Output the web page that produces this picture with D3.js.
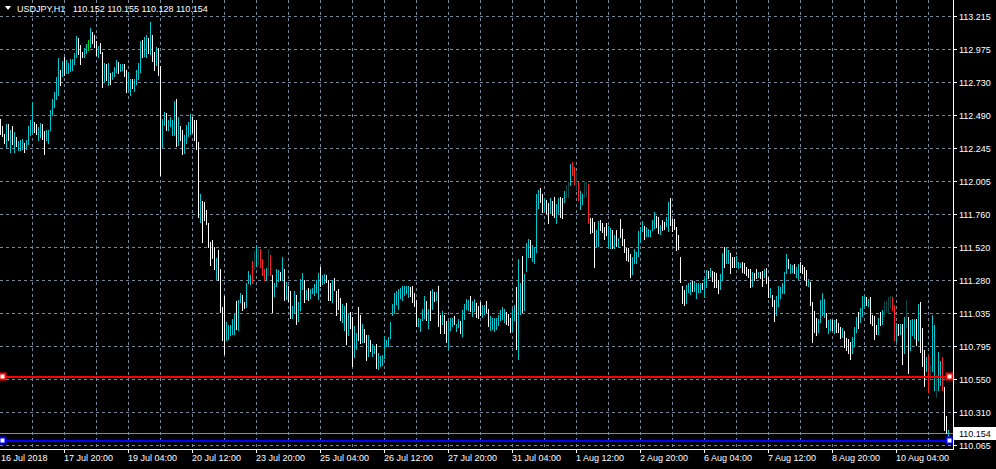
<!DOCTYPE html>
<html><head><meta charset="utf-8">
<script src="https://cdn.jsdelivr.net/npm/d3@7"></script>
<style>html,body{margin:0;padding:0;background:#000;overflow:hidden}svg{display:block}</style>
</head><body><svg id="c" width="996" height="469"></svg>
<script>
const symbolName = "USDJPY,H1";
const quote = [110.152, 110.155, 110.128, 110.154]; // open high low close
const priceTicks = [113.215,112.975,112.730,112.490,112.245,112.005,111.760,111.520,111.280,111.035,110.795,110.550,110.310,110.065];
const timeLabels = ["16 Jul 2018","17 Jul 20:00","19 Jul 04:00","20 Jul 12:00","23 Jul 20:00","25 Jul 04:00","26 Jul 12:00","27 Jul 20:00","31 Jul 04:00","1 Aug 12:00","2 Aug 20:00","6 Aug 04:00","7 Aug 12:00","8 Aug 20:00","10 Aug 04:00"];
const barsPerLabel = 32;
const barsPerGrid = 16;
const redLevel = 110.565;
const blueLevel = 110.095;
const bidLevel = 110.154;

const highs = [
112.462,112.406,112.352,112.421,112.425,112.376,112.406,112.364,112.327,112.298,
112.303,112.315,112.283,112.303,112.406,112.450,112.585,112.438,112.421,112.401,
112.430,112.425,112.372,112.376,112.381,112.523,112.602,112.658,112.768,112.903,
112.822,112.886,112.911,112.891,112.871,112.896,112.896,112.940,113.067,113.050,
113.001,112.952,112.977,113.009,113.038,113.124,113.099,113.075,113.033,112.994,
113.018,112.952,112.871,112.866,112.871,112.793,112.805,112.842,112.891,112.879,
112.862,112.862,112.866,112.817,112.805,112.756,112.756,112.756,112.817,112.871,
113.033,113.038,113.062,113.075,113.050,113.173,113.075,112.952,112.989,112.977,
112.847,112.462,112.511,112.504,112.450,112.474,112.455,112.592,112.609,112.474,
112.406,112.376,112.340,112.413,112.438,112.494,112.474,112.455,112.450,112.291,
111.911,111.857,111.850,111.788,111.695,111.556,111.573,111.519,111.441,111.494,
111.360,111.078,111.156,110.968,110.943,110.943,110.992,111.029,111.122,111.127,
111.178,111.163,111.114,111.256,111.342,111.310,111.415,111.489,111.530,111.501,
111.506,111.432,111.354,111.366,111.501,111.457,111.310,111.256,111.354,111.349,
111.334,111.447,111.354,111.261,111.231,111.195,111.084,111.195,111.170,111.114,
111.285,111.329,111.280,111.202,111.219,111.212,111.219,111.244,111.276,111.325,
111.371,111.310,111.317,111.310,111.280,111.251,111.276,111.293,111.195,111.207,
111.146,111.097,111.089,111.109,111.035,111.040,111.006,110.942,110.888,111.080,
111.023,110.950,110.918,110.876,110.876,110.839,110.803,110.795,110.803,110.737,
110.717,110.729,110.869,110.839,110.859,110.967,111.097,111.178,111.195,111.207,
111.219,111.231,111.236,111.231,111.236,111.227,111.231,111.182,111.133,110.999,
110.991,111.065,111.158,111.121,111.065,111.195,111.207,111.187,111.187,111.231,
111.023,111.048,111.023,110.974,110.974,110.999,110.999,111.011,110.957,110.991,
110.974,111.055,111.097,111.138,111.133,111.158,111.121,111.138,111.109,111.089,
111.116,111.091,111.096,111.121,111.067,111.013,110.998,110.998,110.998,111.018,
111.055,111.079,111.062,111.042,111.030,110.998,111.062,111.096,111.226,111.434,
111.258,111.454,111.324,111.545,111.577,111.569,111.537,111.520,111.905,111.937,
111.949,111.905,111.875,111.863,111.839,111.875,111.856,111.888,111.831,111.880,
111.888,111.880,111.929,111.973,111.993,112.125,112.145,112.108,112.071,111.998,
111.929,111.905,112.003,111.993,111.978,111.733,111.733,111.699,111.643,111.709,
111.716,111.692,111.667,111.692,111.675,111.660,111.643,111.606,111.643,111.586,
111.724,111.650,111.581,111.513,111.508,111.464,111.447,111.503,111.483,111.635,
111.667,111.709,111.675,111.667,111.650,111.643,111.716,111.773,111.748,111.741,
111.679,111.716,111.704,111.741,111.851,111.875,111.724,111.724,111.667,111.606,
111.447,111.234,111.202,111.238,111.251,111.263,111.268,111.268,111.251,111.258,
111.251,111.258,111.292,111.349,111.341,111.361,111.341,111.332,111.330,111.276,
111.320,111.472,111.516,111.516,111.496,111.472,111.447,111.447,111.452,111.411,
111.403,111.411,111.398,111.374,111.354,111.354,111.337,111.330,111.354,111.337,
111.337,111.345,111.354,111.362,111.296,111.215,111.166,111.129,111.158,111.232,
111.227,111.251,111.337,111.467,111.428,111.394,111.386,111.394,111.374,111.394,
111.411,111.386,111.369,111.349,111.281,111.264,111.117,111.051,110.994,110.987,
111.129,111.178,111.134,111.036,110.982,110.987,110.982,110.982,110.987,110.962,
110.928,110.921,110.904,110.847,110.840,110.823,110.855,110.928,111.006,111.043,
111.068,111.158,111.166,111.149,111.134,111.153,111.019,111.011,110.945,110.994,
111.043,111.055,111.117,111.124,111.149,111.158,111.153,111.092,110.962,110.957,
110.957,110.957,111.002,111.129,111.002,110.982,110.987,110.987,110.987,111.100,
111.117,110.921,110.761,110.712,110.725,110.651,111.019,110.945,110.578,110.749,
110.683,110.712,110.492,110.276,110.173];

const lows = [
112.352,112.332,112.283,112.254,112.303,112.217,112.274,112.217,112.259,112.229,
112.234,112.242,112.217,112.242,112.278,112.340,112.364,112.364,112.352,112.308,
112.327,112.315,112.205,112.303,112.283,112.376,112.487,112.548,112.609,112.634,
112.707,112.773,112.781,112.798,112.798,112.813,112.822,112.866,112.911,112.935,
112.866,112.911,112.911,112.940,112.969,112.989,113.018,112.989,112.928,112.915,
112.940,112.695,112.732,112.744,112.707,112.719,112.749,112.773,112.805,112.793,
112.813,112.817,112.773,112.658,112.675,112.634,112.683,112.666,112.719,112.756,
112.805,112.911,112.920,112.915,112.940,112.935,112.886,112.817,112.854,112.781,
112.046,112.254,112.413,112.376,112.376,112.406,112.340,112.340,112.259,112.266,
112.303,112.200,112.210,112.283,112.332,112.352,112.364,112.303,112.242,111.739,
111.703,111.556,111.715,111.690,111.519,111.384,111.441,111.360,111.286,111.274,
111.041,110.833,110.735,110.838,110.845,110.870,110.882,110.882,110.919,110.906,
111.114,111.055,111.072,111.080,111.256,111.244,111.251,111.354,111.383,111.391,
111.374,111.310,111.280,111.276,111.310,111.310,111.040,111.158,111.231,111.268,
111.276,111.280,111.129,111.138,111.121,110.999,110.999,111.035,110.950,110.974,
111.055,111.207,111.114,111.138,111.133,111.146,111.178,111.163,111.187,111.138,
111.231,111.244,111.251,111.261,111.129,111.129,111.114,111.202,111.016,111.065,
110.986,110.967,110.913,110.803,110.876,110.925,110.643,110.712,110.771,110.835,
110.815,110.820,110.820,110.692,110.722,110.754,110.722,110.737,110.631,110.620,
110.643,110.656,110.705,110.790,110.795,110.852,111.023,111.031,111.097,111.065,
111.146,111.133,111.163,111.178,111.153,111.158,111.114,111.084,110.937,110.942,
110.901,110.986,110.999,110.986,110.925,110.986,111.060,111.121,111.133,110.937,
110.888,110.957,110.888,110.820,110.771,110.908,110.937,110.950,110.901,110.933,
110.888,110.869,110.991,111.065,111.055,111.048,111.011,111.048,111.006,110.999,
111.018,111.006,111.030,111.042,110.940,110.908,110.920,110.900,110.915,110.944,
110.981,110.993,110.969,110.957,110.949,110.895,110.908,110.981,110.768,110.699,
111.030,111.042,111.055,111.341,111.447,111.447,111.415,111.398,111.483,111.802,
111.851,111.777,111.782,111.765,111.692,111.765,111.753,111.741,111.692,111.765,
111.741,111.733,111.846,111.888,111.888,111.973,112.047,111.978,111.937,111.863,
111.797,111.831,111.888,111.895,111.692,111.618,111.626,111.373,111.528,111.528,
111.643,111.626,111.581,111.606,111.520,111.508,111.508,111.508,111.528,111.520,
111.594,111.532,111.483,111.422,111.415,111.300,111.324,111.398,111.405,111.454,
111.557,111.635,111.581,111.601,111.601,111.601,111.643,111.660,111.667,111.618,
111.611,111.643,111.650,111.675,111.635,111.679,111.635,111.650,111.496,111.503,
111.263,111.104,111.091,111.104,111.185,111.177,111.194,111.194,111.145,111.189,
111.185,111.209,111.153,111.226,111.292,111.307,111.268,111.226,111.225,111.183,
111.207,111.276,111.374,111.403,111.403,111.325,111.374,111.369,111.369,111.362,
111.369,111.337,111.325,111.313,111.296,111.222,111.232,111.276,111.288,111.296,
111.288,111.232,111.296,111.256,111.153,111.153,111.085,110.977,111.019,111.085,
111.141,111.178,111.178,111.325,111.362,111.330,111.337,111.325,111.300,111.281,
111.337,111.325,111.281,111.239,111.232,111.092,110.823,110.896,110.872,110.896,
110.970,111.019,111.002,110.928,110.889,110.913,110.913,110.884,110.896,110.896,
110.847,110.855,110.786,110.761,110.737,110.693,110.737,110.791,110.896,110.921,
110.970,111.011,111.085,111.092,111.085,110.962,110.945,110.840,110.879,110.879,
110.945,110.957,111.011,111.043,111.036,111.080,111.055,110.835,110.830,110.872,
110.879,110.663,110.742,110.933,110.595,110.761,110.872,110.847,110.798,110.835,
110.749,110.644,110.497,110.610,110.455,110.565,110.610,110.472,110.418,110.467,
110.504,110.472,110.173,110.154,110.112];

// bar kind per bar: c = up, w = down, r = red signal, d = dark signal, g = green signal
const barKinds =
 "wwwcwcwcwc"+"ccwccccwwc"+"cwwccccccc"+"wcwccccccw"+"wwccgcwwwc"+
 "wwcwcwcccw"+"ccwwccwccc"+"cwccwcwwcw"+"wccwccccwc"+"wwccccwwww"+
 "cwwwwwwwcw"+"wwwcccccwc"+"cwwcccrdcd"+"rrrcdrwccc"+"wcwcwwccwc"+
 "ccwcwccccc"+"wccwwwcwww"+"wccwcwwccw"+"wcwwcwccwc"+"cccccccccc"+
 "cccccwwwwc"+"cccwcwcwcw"+"wcwwcccwcc"+"wccccwccww"+"wccwwccccc"+
 "cccwwwccwc"+"cwcccwcccc"+"wwcwwcwwcc"+"wwcddcrrdr"+"ccddrwwwcc"+
 "wwwwccwcwc"+"wwwwwwcccc"+"ccwcccccww"+"cwwccwwwww"+"wwwcccwccc"+
 "cwccwcwwww"+"ccwccwwwcc"+"cwwwwwcwwc"+"wwcwwcwwcc"+"ccccwccwcc"+
 "wwwwcwwwwc"+"cccwccwcww"+"wcwwwwcccw"+"cccwcwwwwc"+"wcddddrrcw"+
 "cwcdwcccwc"+"wwwcrdccdc"+"crwwc";

const kindColor = {c:"#00c8d0", w:"#ffffff", r:"#ff2020", d:"#0b4a48", g:"#00e000"};
const gridColor = "#778899";
const fg = "#ffffff";
const font = "'Liberation Sans', Arial, sans-serif";

const W = 996, H = 469;
const plotRight = 953, plotBottom = 449;
const n = highs.length;

const svg = d3.select("#c").style("background", "#000");
const x = d3.scaleLinear().domain([0, n - 1]).range([0, 2 * (n - 1)]);
const y = d3.scaleLinear().domain([priceTicks[priceTicks.length - 1], priceTicks[0]]).range([445, 16]);
const py = v => Math.round(y(v)) + 0.5;

svg.append("rect").attr("width", W).attr("height", H).attr("fill", "#000");

// grid
const g = svg.append("g").attr("shape-rendering", "crispEdges");
g.selectAll("line.h").data(priceTicks).join("line")
  .attr("x1", 0).attr("x2", plotRight).attr("y1", d => py(d)).attr("y2", d => py(d))
  .attr("stroke", gridColor).attr("stroke-dasharray", "3,3");
const vIdx = d3.range(barsPerGrid, n, barsPerGrid).filter(i => x(i) < plotRight);
g.selectAll("line.v").data(vIdx).join("line")
  .attr("x1", d => x(d) + 0.5).attr("x2", d => x(d) + 0.5).attr("y1", 0).attr("y2", plotBottom)
  .attr("stroke", gridColor).attr("stroke-dasharray", "3,3");

// bid line
svg.append("line").attr("shape-rendering", "crispEdges")
  .attr("x1", 0).attr("x2", plotRight).attr("y1", py(bidLevel)).attr("y2", py(bidLevel))
  .attr("stroke", "#8c8c8c");

// bars
svg.append("g").attr("shape-rendering", "crispEdges")
  .selectAll("rect").data(d3.range(n)).join("rect")
  .attr("x", i => x(i))
  .attr("y", i => Math.round(y(highs[i])))
  .attr("width", 1)
  .attr("height", i => Math.max(1, Math.round(y(lows[i])) - Math.round(y(highs[i])) + 1))
  .attr("fill", i => kindColor[barKinds[i] || "c"]);

// horizontal level lines
function level(v, color) {
  const yy = Math.round(y(v));
  svg.append("rect").attr("x", 0).attr("y", yy - 1).attr("width", plotRight - 2).attr("height", 2).attr("fill", color);
  [2, plotRight - 4].forEach(cx => {
    svg.append("rect").attr("x", cx - 2.5).attr("y", yy - 3.5).attr("width", 6).attr("height", 6)
      .attr("fill", "#fff").attr("stroke", color).attr("stroke-width", 2);
  });
}
level(redLevel, "#ff0000");
level(blueLevel, "#0000ff");

// axes frame
const ax = svg.append("g").attr("shape-rendering", "crispEdges");
ax.append("line").attr("x1", plotRight + 0.5).attr("x2", plotRight + 0.5).attr("y1", 0).attr("y2", plotBottom + 1).attr("stroke", fg);
ax.append("line").attr("x1", 0).attr("x2", plotRight + 1).attr("y1", plotBottom + 0.5).attr("y2", plotBottom + 0.5).attr("stroke", fg);

// price axis labels
ax.selectAll("line.yt").data(priceTicks).join("line")
  .attr("x1", plotRight).attr("x2", plotRight + 4).attr("y1", d => py(d)).attr("y2", d => py(d)).attr("stroke", fg);
svg.selectAll("text.yl").data(priceTicks).join("text")
  .attr("x", plotRight + 6).attr("y", d => Math.round(y(d)) + 3.5)
  .attr("fill", fg).attr("font-family", font).attr("font-size", "9px")
  .text(d => d.toFixed(3));

// bid label
const by = Math.round(y(bidLevel));
svg.append("rect").attr("x", plotRight + 1).attr("y", by - 6).attr("width", W - plotRight - 1).attr("height", 13).attr("fill", "#fff");
svg.append("text").attr("x", plotRight + 6).attr("y", by + 3.5).attr("fill", "#000")
  .attr("font-family", font).attr("font-size", "9px").text(bidLevel.toFixed(3));

// time axis
const tIdx = timeLabels.map((t, k) => k * barsPerLabel);
ax.selectAll("line.xt").data(tIdx.slice(1)).join("line")
  .attr("x1", d => x(d) + 0.5).attr("x2", d => x(d) + 0.5).attr("y1", plotBottom).attr("y2", plotBottom + 4).attr("stroke", fg);
svg.selectAll("text.xl").data(timeLabels).join("text")
  .attr("x", (d, k) => x(tIdx[k]) + (k === 0 ? 1 : 0)).attr("y", 461)
  .attr("fill", fg).attr("font-family", font).attr("font-size", "9px")
  .text(d => d);

// title
svg.append("path").attr("d", "M5,6 L11,6 L8,10 Z").attr("fill", fg);
svg.append("text").attr("x", 17).attr("y", 12).attr("fill", fg)
  .attr("font-family", font).attr("font-size", "9px").attr("xml:space", "preserve")
  .style("white-space", "pre")
  .text(symbolName + "   " + quote.map(v => v.toFixed(3)).join(" "));
</script></body></html>
